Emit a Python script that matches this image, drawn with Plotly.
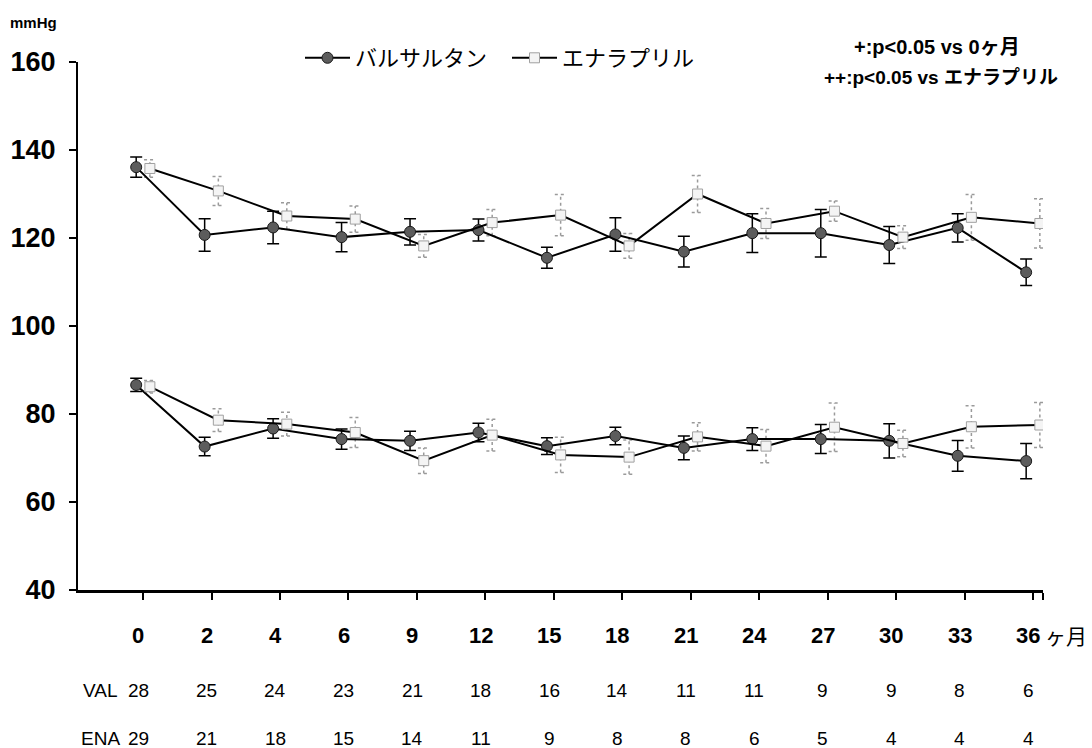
import plotly.graph_objects as go

# Follow-up months and patients remaining at each visit
months = ["0", "2", "4", "6", "9", "12", "15", "18", "21", "24", "27", "30", "33", "36"]
n_val = [28, 25, 24, 23, 21, 18, 16, 14, 11, 11, 9, 9, 8, 6]
n_ena = [29, 21, 18, 15, 14, 11, 9, 8, 8, 6, 5, 4, 4, 4]

# Systolic blood pressure (mean, SE), mmHg
val_sys = [136.1, 120.7, 122.4, 120.2, 121.4, 121.8, 115.5, 120.8, 116.9, 121.1, 121.1, 118.4, 122.3, 112.2]
val_sys_err = [2.3, 3.7, 3.7, 3.3, 3.0, 2.5, 2.4, 3.8, 3.5, 4.4, 5.4, 4.2, 3.2, 3.0]
ena_sys = [135.8, 130.7, 125.0, 124.3, 118.2, 123.5, 125.2, 118.2, 130.0, 123.3, 126.1, 120.2, 124.7, 123.3]
ena_sys_err = [2.0, 3.3, 3.0, 3.0, 2.6, 3.0, 4.7, 2.8, 4.2, 3.4, 2.3, 2.6, 5.2, 5.6]

# Diastolic blood pressure (mean, SE), mmHg
val_dia = [86.6, 72.6, 76.7, 74.3, 73.9, 75.8, 72.7, 75.0, 72.3, 74.3, 74.3, 73.9, 70.5, 69.3]
val_dia_err = [1.5, 2.1, 2.2, 2.3, 2.2, 2.1, 1.9, 2.0, 2.7, 2.6, 3.3, 3.9, 3.5, 4.0]
ena_dia = [86.2, 78.6, 77.7, 75.8, 69.4, 75.2, 70.7, 70.2, 74.8, 72.7, 77.0, 73.3, 77.1, 77.5]
ena_dia_err = [1.4, 2.6, 2.7, 3.4, 2.9, 3.6, 4.0, 3.9, 3.2, 3.8, 5.5, 3.0, 4.8, 5.1]

y_ticks = [40, 60, 80, 100, 120, 140, 160]

positions = list(range(len(months)))
shift = 0.1  # side-by-side offset so the two drugs do not overlap
x_val = [p - shift for p in positions]
x_ena = [p + shift for p in positions]
x_start, x_end = -0.95, len(months) - 1 + 0.146
cap = 0.085  # half-width of the dotted error-bar caps, in category units

JP = "Noto Sans CJK JP, Liberation Sans, Arial, sans-serif"
SANS = "Liberation Sans, Arial, sans-serif"
NOTE = "Liberation Sans, Noto Sans CJK JP, sans-serif"

# figure geometry (pixels)
W, H = 1092, 748
L, R, T, B = 78, 49, 62, 158
pw, ph = W - L - R, H - T - B


def px_x(px):
    return (px - L) / pw


def px_y(py):
    return (H - B - py) / ph


def dotted_bars(xs, ys, errs):
    """Path of vertical whiskers plus caps, separated by gaps."""
    px, py = [], []
    for x, y, e in zip(xs, ys, errs):
        px += [x, x, None, x - cap, x + cap, None, x - cap, x + cap, None]
        py += [y - e, y + e, None, y + e, y + e, None, y - e, y - e, None]
    return px, py


val_style = dict(
    mode="lines+markers",
    line=dict(color="black", width=2),
    marker=dict(symbol="circle", size=11, color="#5c5c5c", line=dict(color="#1a1a1a", width=1)),
    legendgroup="val",
    name="バルサルタン",
)
ena_style = dict(
    mode="lines+markers",
    line=dict(color="black", width=2),
    marker=dict(symbol="square", size=10, color="#f4f4f4", line=dict(color="#a0a0a0", width=1)),
    legendgroup="ena",
    name="エナラプリル",
)
val_err = dict(type="data", color="black", thickness=1.5, width=6)

fig = go.Figure()

# enalapril whiskers are dotted light grey
for ys, errs in [(ena_sys, ena_sys_err), (ena_dia, ena_dia_err)]:
    ex, ey = dotted_bars(x_ena, ys, errs)
    fig.add_trace(go.Scatter(x=ex, y=ey, mode="lines", line=dict(color="#9a9a9a", width=1.5, dash="dot"),
                             hoverinfo="skip", showlegend=False))

fig.add_trace(go.Scatter(x=x_val, y=val_sys, error_y=dict(array=val_sys_err, **val_err), showlegend=True, **val_style))
fig.add_trace(go.Scatter(x=x_ena, y=ena_sys, showlegend=True, **ena_style))
fig.add_trace(go.Scatter(x=x_val, y=val_dia, error_y=dict(array=val_dia_err, **val_err), showlegend=False, **val_style))
fig.add_trace(go.Scatter(x=x_ena, y=ena_dia, showlegend=False, **ena_style))

fig.update_xaxes(
    range=[x_start, x_end],
    tickmode="array",
    tickvals=positions + [x_end],
    showticklabels=False,
    ticks="outside",
    ticklen=7,
    tickwidth=2,
    tickcolor="black",
    showline=True,
    linecolor="black",
    linewidth=2.5,
    showgrid=False,
    zeroline=False,
)
fig.update_yaxes(
    range=[40, 160],
    tickmode="array",
    tickvals=y_ticks,
    ticktext=[f"<b>{v}</b>" for v in y_ticks],
    ticks="outside",
    ticklen=7,
    tickwidth=2,
    tickcolor="black",
    showline=True,
    linecolor="black",
    linewidth=2,
    showgrid=False,
    zeroline=False,
    ticklabelstandoff=8,
    tickfont=dict(family=SANS, size=27, color="black"),
)

row_font = dict(family=SANS, size=19, color="black")
month_font = dict(family=SANS, size=22, color="black")
annotations = []
for i, (m, a, b) in enumerate(zip(months, n_val, n_ena)):
    xm = i - 0.07
    annotations.append(dict(x=xm, y=px_y(635), xref="x", yref="paper", text=f"<b>{m}</b>", showarrow=False,
                            xanchor="center", yanchor="middle", font=month_font))
    annotations.append(dict(x=xm, y=px_y(690), xref="x", yref="paper", text=str(a), showarrow=False,
                            xanchor="center", yanchor="middle", font=row_font))
    annotations.append(dict(x=xm, y=px_y(738), xref="x", yref="paper", text=str(b), showarrow=False,
                            xanchor="center", yanchor="middle", font=row_font))
annotations += [
    dict(x=px_x(100), y=px_y(690), xref="paper", yref="paper", text="VAL", showarrow=False,
         xanchor="center", yanchor="middle", font=row_font),
    dict(x=px_x(100), y=px_y(738), xref="paper", yref="paper", text="ENA", showarrow=False,
         xanchor="center", yanchor="middle", font=row_font),
    dict(x=px_x(1066), y=px_y(635), xref="paper", yref="paper", text="ヶ月", showarrow=False,
         xanchor="center", yanchor="middle", font=dict(family=JP, size=21, color="black")),
    dict(x=px_x(8), y=px_y(22), xref="paper", yref="paper", text="<b>mmHg</b>", showarrow=False,
         xanchor="left", yanchor="middle", font=dict(family=SANS, size=15, color="black")),
    dict(x=px_x(1022), y=px_y(47), xref="paper", yref="paper", text="<b>+:p&lt;0.05 vs 0ヶ月</b>",
         showarrow=False, xanchor="right", yanchor="middle", font=dict(family=NOTE, size=20, color="black")),
    dict(x=px_x(1060), y=px_y(77), xref="paper", yref="paper", text="<b>++:p&lt;0.05 vs エナラプリル</b>",
         showarrow=False, xanchor="right", yanchor="middle", font=dict(family=NOTE, size=19, color="black")),
]

fig.update_layout(
    width=W,
    height=H,
    margin=dict(l=L, r=R, t=T, b=B),
    plot_bgcolor="white",
    paper_bgcolor="white",
    font=dict(family=JP, color="black"),
    showlegend=True,
    legend=dict(
        orientation="h",
        x=px_x(300),
        y=px_y(58),
        xanchor="left",
        yanchor="middle",
        font=dict(family=JP, size=22, color="black"),
        bgcolor="rgba(0,0,0,0)",
        itemwidth=45,
        entrywidth=147,
        entrywidthmode="pixels",
    ),
    annotations=annotations,
)

fig.write_html("out.html")
